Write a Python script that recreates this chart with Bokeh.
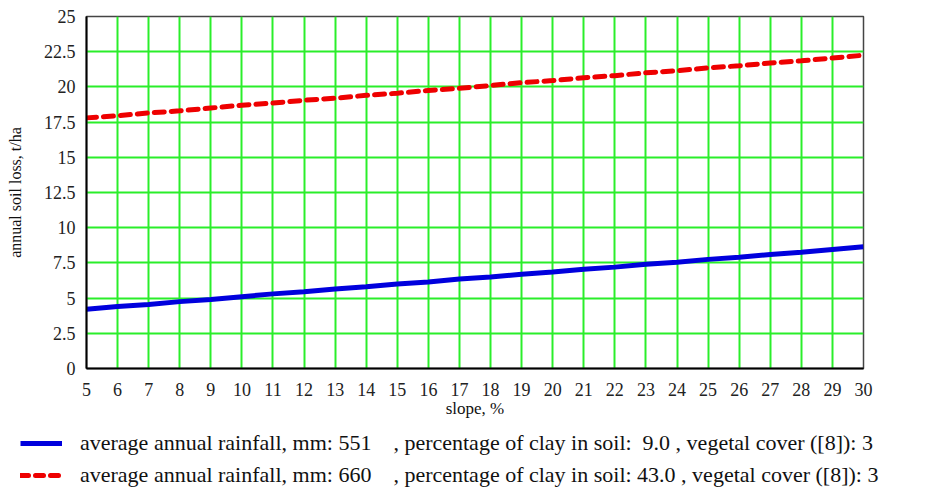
from bokeh.plotting import figure
from bokeh.models import FixedTicker, Legend, LegendItem
from bokeh.layouts import column
from bokeh.embed import file_html
from bokeh.resources import INLINE

# ---- data ----
slope = [5, 6, 7, 8, 9, 10, 11, 12, 13, 14, 15, 16, 17, 18, 19, 20,
         21, 22, 23, 24, 25, 26, 27, 28, 29, 30]
loss_551 = [4.2, 4.4, 4.55, 4.75, 4.9, 5.1, 5.3, 5.45, 5.65, 5.8, 6.0, 6.15, 6.35,
            6.5, 6.7, 6.85, 7.05, 7.2, 7.4, 7.55, 7.75, 7.9, 8.1, 8.25, 8.45, 8.65]
loss_660 = [17.8, 17.95, 18.15, 18.3, 18.5, 18.7, 18.85, 19.05, 19.2, 19.4, 19.55,
            19.75, 19.9, 20.1, 20.3, 20.45, 20.65, 20.8, 21.0, 21.15, 21.35, 21.5,
            21.7, 21.85, 22.05, 22.25]
x_ticks = list(range(5, 31))
y_ticks = [0, 2.5, 5, 7.5, 10, 12.5, 15, 17.5, 20, 22.5, 25]
y_tick_labels = ["0", "2.5", "5", "7.5", "10", "12.5", "15", "17.5", "20", "22.5", "25"]
label_551 = ("average annual rainfall, mm: 551\u00a0\u00a0\u00a0\u00a0, percentage of clay in soil:"
             "\u00a0\u00a09.0\u00a0, vegetal cover ([8]): 3")
label_660 = ("average annual rainfall, mm: 660\u00a0\u00a0\u00a0\u00a0, percentage of clay in soil: "
             "43.0\u00a0, vegetal cover ([8]): 3")

FONT = "Liberation Serif"
BLUE = "#0000dd"
RED = "#ee0000"

p = figure(width=914, height=420, output_backend="svg", toolbar_location=None,
           x_range=(5, 30), y_range=(0, 25),
           min_border_left=86, min_border_right=51, min_border_top=16, min_border_bottom=52)
p.frame_align = False

p.xaxis.ticker = FixedTicker(ticks=x_ticks)
p.yaxis.ticker = FixedTicker(ticks=y_ticks)
p.yaxis.major_label_overrides = {t: l for t, l in zip(y_ticks, y_tick_labels)}

for ax in (p.xaxis, p.yaxis):
    ax.major_tick_line_color = None
    ax.minor_tick_line_color = None
    ax.axis_line_color = "black"
    ax.axis_line_width = 2
    ax.major_label_text_font = FONT
    ax.major_label_text_font_size = "18px"
    ax.major_label_text_color = "#222222"
    ax.axis_label_text_font = FONT
    ax.axis_label_text_font_style = "normal"
    ax.axis_label_text_color = "#111111"

p.xaxis.axis_label = "slope, %"
p.yaxis.axis_label = "annual soil loss, t/ha"
p.xaxis.axis_label_text_font_size = "17px"
p.yaxis.axis_label_text_font_size = "16px"
p.xaxis.major_label_standoff = 8
p.xaxis.axis_label_standoff = 0
p.yaxis.major_label_standoff = 5
p.yaxis.axis_label_standoff = 17

p.xgrid.ticker = FixedTicker(ticks=x_ticks)
p.ygrid.ticker = FixedTicker(ticks=y_ticks)
for g in (p.xgrid, p.ygrid):
    g.grid_line_color = "#2aee2a"
    g.grid_line_width = 2
    g.grid_line_alpha = 1.0

p.outline_line_color = "#444444"
p.outline_line_width = 1.5
p.background_fill_color = "white"
p.border_fill_color = "white"

p.line(slope, loss_551, line_color=BLUE, line_width=5)
p.line(slope, loss_660, line_color=RED, line_width=5, line_dash="10 7", line_cap="round")

# ---- legend strip below the chart (series drawn off-view, only their legend shows) ----
leg = figure(width=914, height=68, output_backend="svg", toolbar_location=None,
             x_axis_type=None, y_axis_type=None,
             x_range=(5, 30), y_range=(100, 200),
             min_border_left=0, min_border_right=0, min_border_top=0, min_border_bottom=0)
leg.frame_align = False
leg.outline_line_color = None
leg.xgrid.visible = False
leg.ygrid.visible = False
lr1 = leg.line(slope, loss_551, line_color=BLUE, line_width=5)
lr2 = leg.line(slope, loss_660, line_color=RED, line_width=5, line_dash="8 7", line_cap="round")
legend = Legend(items=[LegendItem(label=label_551, renderers=[lr1]),
                       LegendItem(label=label_660, renderers=[lr2])],
                location=(20, 0), orientation="vertical",
                glyph_width=42, glyph_height=18, label_height=18, label_standoff=18,
                spacing=6, padding=0, margin=0,
                border_line_alpha=0, background_fill_alpha=0,
                label_text_font=FONT, label_text_font_size="22px",
                label_text_color="#111111")
leg.add_layout(legend)

layout = column(p, leg, spacing=0)
open("out.html", "w").write(file_html(layout, INLINE))
